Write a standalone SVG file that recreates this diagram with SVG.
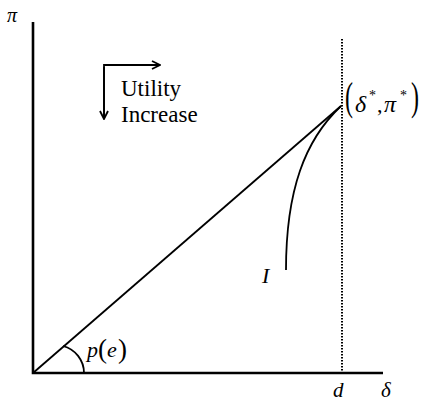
<svg xmlns="http://www.w3.org/2000/svg" width="421" height="405" viewBox="0 0 421 405">
<defs>
<marker id="ah" markerWidth="10" markerHeight="10" refX="9" refY="5" orient="auto" markerUnits="userSpaceOnUse">
<path d="M1,1 L9,5 L1,9" fill="none" stroke="#000" stroke-width="1.8"/>
</marker>
</defs>
<rect width="421" height="405" fill="#fff"/>
<g id="axes">
<path d="M33,22 V373 H383" stroke="#000" fill="none" stroke-width="2.6"/>
<text font-family="Liberation Serif" font-style="italic" x="7" y="22" font-size="20">π</text>
<text font-family="Liberation Serif" font-style="italic" x="333" y="397" font-size="21">d</text>
<text font-family="Liberation Serif" font-style="italic" x="381" y="397" font-size="21">δ</text>
</g>
<g id="connectors" stroke="#000" fill="none">
<path d="M342,39 V373" stroke-width="2" stroke-dasharray="1.5,1.5"/>
<path d="M33,373 L341,106" stroke-width="1.8"/>
<path d="M341,106 C305,140 286,190 286,270" stroke-width="1.8"/>
<path d="M84,373 A28,28 0 0 0 63,346" stroke-width="1.8"/>
<path d="M104,119 V65 H160" stroke-width="1.8" marker-end="url(#ah)"/>
<path d="M104,67 V119" stroke-width="1.8" marker-end="url(#ah)"/>
</g>
<g id="utility">
<text font-family="Liberation Serif" x="121" y="96" font-size="23">Utility</text>
<text font-family="Liberation Serif" x="121" y="122" font-size="23">Increase</text>
</g>
<g id="point">
<text font-family="Liberation Serif" x="345" y="110" font-size="40" transform="translate(345,110) scale(0.6,1) translate(-345,-110)">(</text>
<text font-family="Liberation Serif" font-style="italic" x="355" y="112" font-size="24">δ</text>
<text font-family="Liberation Serif" x="369" y="100" font-size="14">*</text>
<text font-family="Liberation Serif" x="377" y="112" font-size="22">,</text>
<text font-family="Liberation Serif" font-style="italic" x="384" y="112" font-size="24">π</text>
<text font-family="Liberation Serif" x="400" y="100" font-size="14">*</text>
<text font-family="Liberation Serif" x="411" y="110" font-size="40" transform="translate(411,110) scale(0.6,1) translate(-411,-110)">)</text>
</g>
<g id="labels">
<text font-family="Liberation Serif" font-style="italic" x="87" y="357" font-size="22">p</text>
<text font-family="Liberation Serif" x="98" y="358" font-size="27">(</text>
<text font-family="Liberation Serif" font-style="italic" x="107" y="357" font-size="22">e</text>
<text font-family="Liberation Serif" x="118" y="358" font-size="27">)</text>
<text font-family="Liberation Serif" font-style="italic" x="262" y="283" font-size="22">I</text>
</g>
</svg>
